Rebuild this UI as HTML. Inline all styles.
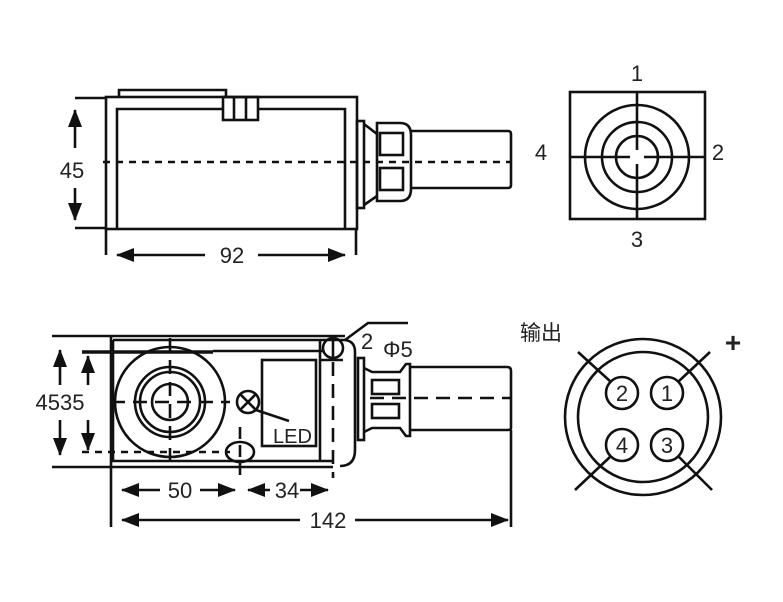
<!DOCTYPE html>
<html><head><meta charset="utf-8"><style>
html,body{margin:0;padding:0;background:#fff}
svg{display:block}
text{font-family:"Liberation Sans","Noto Sans CJK SC",sans-serif;fill:#222}
</style></head><body>
<svg width="783" height="602" viewBox="0 0 783 602" xmlns="http://www.w3.org/2000/svg">
<defs>
<marker id="ab" markerWidth="18" markerHeight="14" refX="17" refY="7" orient="auto-start-reverse" markerUnits="userSpaceOnUse"><path d="M0,0 L18,7 L0,14 z" fill="#111"/></marker>
</defs>
<g fill="none" stroke="#111" stroke-width="2.6">
<line x1="75" y1="98" x2="106" y2="98"/>
<line x1="75" y1="228" x2="106" y2="228"/>
<rect x="106" y="97" width="251" height="132"/>
<polyline points="117,229 117,109 223,109"/>
<polyline points="258,109 345,109 345,229"/>
<polyline points="119,97 119,90 226,90 226,97"/>
<rect x="223" y="97" width="35" height="23"/>
<line x1="234" y1="97" x2="234" y2="120"/><line x1="246" y1="97" x2="246" y2="120"/>
<line x1="106" y1="229" x2="106" y2="255"/><line x1="356" y1="229" x2="356" y2="255"/>
<rect x="357" y="121" width="7" height="87"/>
<polyline points="364,124 377,134"/><polyline points="364,205 377,196"/>
<path d="M377,123 H400 Q411,123 411,135 V189 Q411,201 400,201 H377 Z"/>
<rect x="380" y="133" width="23" height="22"/><rect x="380" y="168" width="23" height="22"/>
<path d="M411,131 H508 Q511,131 511,134 V185 Q511,188 508,188 H411"/>
<line x1="103" y1="162" x2="510" y2="162" stroke-dasharray="7,6"/>
<line x1="75" y1="148" x2="75" y2="110" marker-end="url(#ab)"/>
<line x1="75" y1="188" x2="75" y2="220" marker-end="url(#ab)"/>
<line x1="205" y1="255" x2="117" y2="255" marker-end="url(#ab)"/>
<line x1="258" y1="255" x2="345" y2="255" marker-end="url(#ab)"/>
<rect x="570" y="92" width="135" height="127"/>
<circle cx="637" cy="157" r="52"/><circle cx="637" cy="157" r="35"/><circle cx="637" cy="157" r="21"/>
<line x1="637" y1="92" x2="637" y2="150"/><line x1="637" y1="164" x2="637" y2="219"/>
<line x1="570" y1="157" x2="630" y2="157"/><line x1="644" y1="157" x2="705" y2="157"/>
<line x1="52" y1="336" x2="345" y2="336"/>
<line x1="52" y1="467" x2="333" y2="467"/>
<line x1="111" y1="336" x2="111" y2="527"/>
<path d="M113,340 H343 Q355,340 355,352 V450 Q355,466 340,466"/>
<polyline points="113,340 113,461 333,461"/>
<line x1="82" y1="352" x2="213" y2="352" stroke-width="3.5"/>
<line x1="213" y1="351" x2="323" y2="351"/>
<line x1="320" y1="360" x2="343" y2="360"/>
<line x1="320" y1="340" x2="320" y2="461"/>
<circle cx="170" cy="402" r="55"/><circle cx="170" cy="402" r="35"/><circle cx="170" cy="402" r="30"/><circle cx="170" cy="402" r="18"/>
<line x1="170" y1="338" x2="170" y2="470" stroke-dasharray="14,8"/>
<line x1="111" y1="402" x2="230" y2="402" stroke-dasharray="14,8"/>
<circle cx="248" cy="402" r="11"/>
<line x1="240" y1="394" x2="256" y2="410"/><line x1="256" y1="394" x2="240" y2="410"/>
<line x1="256" y1="410" x2="289" y2="421"/>
<rect x="262" y="360" width="54" height="86"/>
<ellipse cx="240" cy="452" rx="14" ry="10"/>
<line x1="240" y1="427" x2="240" y2="478" stroke-dasharray="12,6"/>
<circle cx="333" cy="348" r="10"/><line x1="333" y1="338" x2="333" y2="358"/>
<line x1="333" y1="362" x2="333" y2="478" stroke-dasharray="14,8"/>
<polyline points="345,340 368,323 408,323"/>
<rect x="358" y="358" width="6" height="82"/>
<path d="M364,368 L372,372 H400 L406,364 H410 V436 H406 L400,428 H372 L364,432"/>
<rect x="372" y="380" width="27" height="14"/><rect x="372" y="404" width="27" height="14"/>
<path d="M410,367 H507 Q511,367 511,371 V428 Q511,430 507,430 H410"/>
<line x1="511" y1="430" x2="511" y2="527"/>
<line x1="370" y1="398" x2="510" y2="398" stroke-dasharray="14,8"/>
<line x1="82" y1="452" x2="230" y2="452" stroke-dasharray="7,6"/>
<line x1="60" y1="385" x2="60" y2="350" marker-end="url(#ab)"/>
<line x1="60" y1="420" x2="60" y2="455" marker-end="url(#ab)"/>
<line x1="88" y1="385" x2="88" y2="356" marker-end="url(#ab)"/>
<line x1="88" y1="420" x2="88" y2="450" marker-end="url(#ab)"/>
<line x1="160" y1="490" x2="122" y2="490" marker-end="url(#ab)"/>
<line x1="200" y1="490" x2="235" y2="490" marker-end="url(#ab)"/>
<line x1="270" y1="490" x2="248" y2="490" marker-end="url(#ab)"/>
<line x1="300" y1="490" x2="328" y2="490" marker-end="url(#ab)"/>
<line x1="300" y1="520" x2="122" y2="520" marker-end="url(#ab)"/>
<line x1="355" y1="520" x2="508" y2="520" marker-end="url(#ab)"/>
<circle cx="643" cy="417" r="78"/><circle cx="643" cy="417" r="65"/>
<circle cx="622" cy="393" r="16"/><circle cx="667" cy="393" r="16"/>
<circle cx="622" cy="445" r="16"/><circle cx="667" cy="445" r="16"/>
<line x1="578" y1="352" x2="611" y2="382"/><line x1="710" y1="352" x2="678" y2="382"/>
<line x1="575" y1="490" x2="611" y2="456"/><line x1="712" y1="490" x2="678" y2="456"/>
</g>
<g font-size="22">
<text x="72" y="178" text-anchor="middle">45</text>
<text x="232" y="263" text-anchor="middle">92</text>
<text x="637" y="81" text-anchor="middle">1</text>
<text x="718" y="160" text-anchor="middle">2</text>
<text x="637" y="247" text-anchor="middle">3</text>
<text x="541" y="160" text-anchor="middle">4</text>
<text x="60" y="410" text-anchor="middle">4535</text>
<text x="180" y="498" text-anchor="middle">50</text>
<text x="287" y="498" text-anchor="middle">34</text>
<text x="328" y="528" text-anchor="middle">142</text>
<text x="273" y="443" font-size="20">LED</text>
<text x="361" y="349">2</text>
<text x="383" y="357">Φ5</text>
<text x="520" y="340" font-size="21">输出</text>
<text x="733" y="352" text-anchor="middle" font-size="28" font-weight="bold">+</text>
<text x="622" y="401" text-anchor="middle">2</text>
<text x="667" y="401" text-anchor="middle">1</text>
<text x="622" y="453" text-anchor="middle">4</text>
<text x="667" y="453" text-anchor="middle">3</text>
</g>
</svg>
</body></html>
